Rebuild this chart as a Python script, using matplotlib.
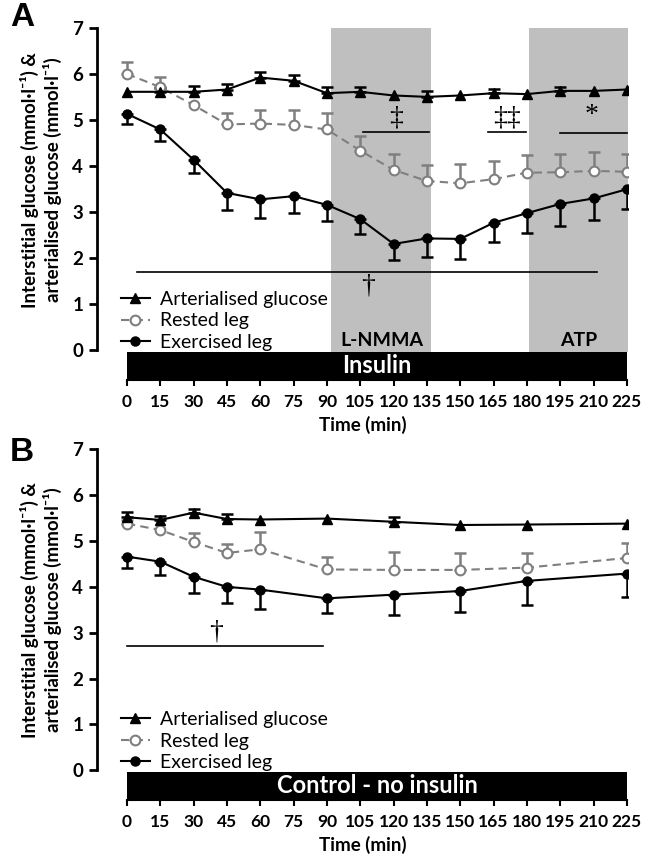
import matplotlib
matplotlib.use("Agg")
import matplotlib.pyplot as plt
from matplotlib.patches import Rectangle

plt.rcParams['font.family'] = ['Lato', 'DejaVu Sans']

# panel A: insulin clamp
TIME_A = [0, 15, 30, 45, 60, 75, 90, 105, 120, 135, 150, 165, 180, 195, 210, 225]
ART_A = [5.62, 5.62, 5.62, 5.67, 5.93, 5.86, 5.59, 5.62, 5.54, 5.51, 5.54, 5.59, 5.57, 5.64, 5.64, 5.67]
ART_A_ERR = [0.0, 0.08, 0.13, 0.12, 0.13, 0.12, 0.13, 0.10, 0.0, 0.13, 0.0, 0.10, 0.0, 0.09, 0.0, 0.0]
REST_A = [6.01, 5.72, 5.33, 4.91, 4.93, 4.90, 4.80, 4.34, 3.92, 3.68, 3.63, 3.72, 3.86, 3.87, 3.90, 3.88]
REST_A_ERR = [0.26, 0.23, 0.0, 0.24, 0.29, 0.32, 0.35, 0.32, 0.35, 0.35, 0.42, 0.39, 0.38, 0.40, 0.42, 0.39]
EX_A = [5.14, 4.80, 4.14, 3.42, 3.28, 3.35, 3.16, 2.85, 2.31, 2.43, 2.42, 2.77, 2.98, 3.18, 3.30, 3.50]
EX_A_ERR = [0.22, 0.25, 0.28, 0.37, 0.41, 0.37, 0.35, 0.32, 0.36, 0.40, 0.44, 0.41, 0.43, 0.47, 0.47, 0.42]

# panel B: control
TIME_B = [0, 15, 30, 45, 60, 90, 120, 150, 180, 225]
ART_B = [5.52, 5.46, 5.62, 5.48, 5.47, 5.49, 5.42, 5.35, 5.36, 5.38]
ART_B_ERR = [0.12, 0.08, 0.09, 0.11, 0.0, 0.0, 0.10, 0.0, 0.0, 0.0]
REST_B = [5.38, 5.24, 4.98, 4.74, 4.82, 4.38, 4.37, 4.37, 4.42, 4.63]
REST_B_ERR = [0.08, 0.0, 0.20, 0.19, 0.38, 0.28, 0.40, 0.36, 0.32, 0.32]
EX_B = [4.66, 4.55, 4.22, 4.00, 3.94, 3.75, 3.83, 3.91, 4.13, 4.29]
EX_B_ERR = [0.24, 0.28, 0.36, 0.35, 0.43, 0.33, 0.45, 0.46, 0.53, 0.51]

# infusion periods (start, end, label)
SHADES_A = [(92, 137, "L-NMMA"), (181, 226, "ATP")]

# significance bars (x0, x1, y, symbol, symbol x, symbol y)
SIG_A = [
    (4.5, 211.5, 1.70, "\u2020", 108.5, 1.40),
    (106, 136, 4.75, "\u2021", 121, 5.05),
    (162.5, 179.5, 4.75, "\u2021\u2021", 171, 5.05),
    (195, 225, 4.73, "*", 209, 5.10),
]
SIG_B = [
    (0, 88, 2.71, "\u2020", 40, 3.02),
]

X_TICKS = list(range(0, 226, 15))
Y_TICKS = list(range(0, 8))
YLABEL = "Interstitial glucose (mmol\u00b7l\u207b\u00b9) &\narterialised glucose (mmol\u00b7l\u207b\u00b9)"

GREY = "#7f7f7f"
SHADE = "#bfbfbf"


def _errbar(ax, t, y, err, direction, color, z):
    ts = [a for a, e in zip(t, err) if e > 0]
    ys = [b for b, e in zip(y, err) if e > 0]
    es = [e for e in err if e > 0]
    if direction == "up":
        yerr = [[0] * len(es), es]
    else:
        yerr = [es, [0] * len(es)]
    ax.errorbar(ts, ys, yerr=yerr, fmt="none", ecolor=color, elinewidth=1.8,
                capsize=4, capthick=1.8, zorder=z)


def draw_panel(ax, t, art, art_err, rest, rest_err, ex, ex_err, bar_text, shades, sigs):
    ax.set_xlim(-13.5, 225.5)
    ax.set_ylim(-0.65, 7.03)

    for x0, x1, lab in shades:
        ax.add_patch(Rectangle((x0, -0.03), x1 - x0, 7.03, color=SHADE, lw=0, zorder=0))
        ax.text((x0 + x1) / 2, 0.22, lab, ha="center", va="center",
                fontsize=14, fontweight="bold", zorder=1)

    ax.add_patch(Rectangle((0, -0.65), 225, 0.61, color="black", lw=0, zorder=2))
    ax.text(112.5, -0.33, bar_text, ha="center", va="center", color="white",
            fontsize=17, fontweight="bold", zorder=3)

    _errbar(ax, t, rest, rest_err, "up", GREY, 4)
    _errbar(ax, t, ex, ex_err, "down", "black", 4)
    _errbar(ax, t, art, art_err, "up", "black", 4)

    ax.plot(t, art, color="black", lw=1.5, marker="^", ms=6.5, zorder=6,
            label="Arterialised glucose")
    ax.plot(t, rest, color=GREY, lw=1.5, ls=(0, (4, 2.5)), marker="o", ms=7,
            mfc="white", mec=GREY, mew=1.5, zorder=5, label="Rested leg")
    ax.plot(t, ex, color="black", lw=1.5, marker="o", ms=6.5, zorder=6,
            label="Exercised leg")

    for x0, x1, y, sym, sx, sy in sigs:
        ax.plot([x0, x1], [y, y], color="black", lw=1.2, zorder=3)
        ax.text(sx, sy, sym, ha="center", va="center", fontsize=20,
                family=["Liberation Serif"], zorder=3)

    ax.legend(loc="lower left", bbox_to_anchor=(0.045, 0.083), frameon=False,
              fontsize=14, handlelength=1.5, handletextpad=0.5,
              labelspacing=0.22, borderpad=0, borderaxespad=0)

    for side in ("top", "right"):
        ax.spines[side].set_visible(False)
    ax.spines["left"].set_bounds(0, 7)
    ax.spines["left"].set_linewidth(2)
    ax.spines["bottom"].set_bounds(0, 225)
    ax.spines["bottom"].set_linewidth(1.5)
    ax.set_yticks(Y_TICKS)
    ax.set_xticks(X_TICKS)
    ax.tick_params(axis="y", length=6, width=2, labelsize=13.5, pad=4)
    ax.tick_params(axis="x", length=4, width=1.5, labelsize=12.5, pad=6)
    for lab in ax.get_xticklabels() + ax.get_yticklabels():
        lab.set_fontweight("bold")
    ax.set_xlabel("Time (min)", fontsize=13.5, fontweight="bold", labelpad=4)


fig = plt.figure(figsize=(6.51, 8.55), dpi=100)
ax_a = fig.add_axes([97 / 651, 475 / 855, 531 / 651, 353 / 855])
ax_b = fig.add_axes([97 / 651, 55 / 855, 531 / 651, 352 / 855])

draw_panel(ax_a, TIME_A, ART_A, ART_A_ERR, REST_A, REST_A_ERR, EX_A, EX_A_ERR,
           "Insulin", SHADES_A, SIG_A)
draw_panel(ax_b, TIME_B, ART_B, ART_B_ERR, REST_B, REST_B_ERR, EX_B, EX_B_ERR,
           "Control - no insulin", [], SIG_B)

for ax, top_px in ((ax_a, 180), (ax_b, 610)):
    fig.text(41 / 651, 1 - top_px / 855, YLABEL, rotation=90, ha="center", va="center",
             multialignment="center", fontsize=13.5, fontweight="bold", linespacing=1.25)

fig.text(10 / 651, 1 - 2 / 855, "A", ha="left", va="top", fontsize=24,
         fontweight="bold", family=["Liberation Sans"])
fig.text(10 / 651, 1 - 437 / 855, "B", ha="left", va="top", fontsize=24,
         fontweight="bold", family=["Liberation Sans"])

fig.savefig("out.png", dpi=100)
